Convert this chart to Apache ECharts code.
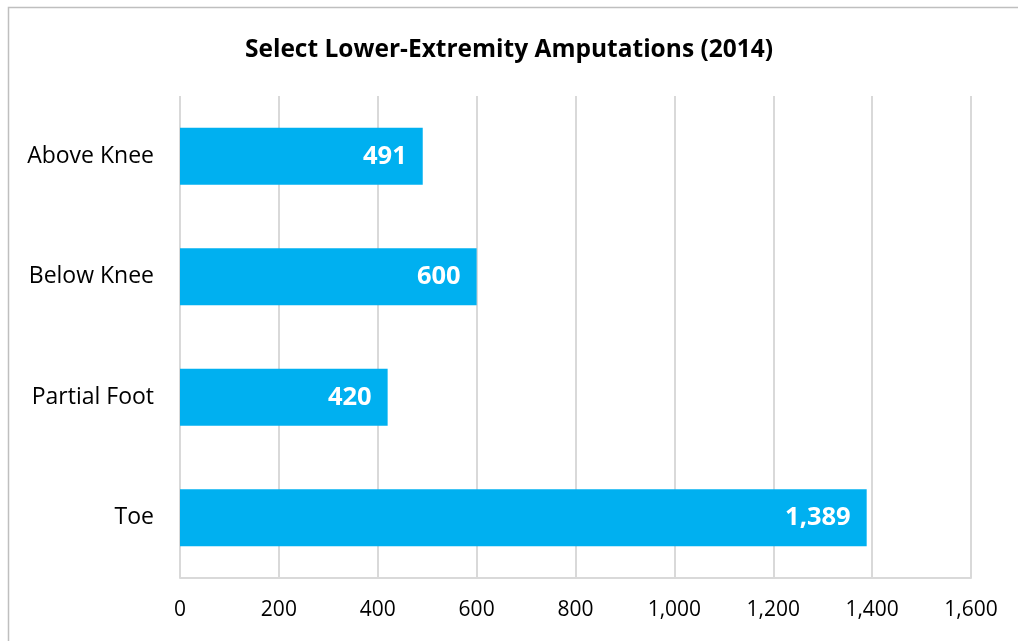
<!DOCTYPE html>
<html><head><meta charset="utf-8">
<script src="https://cdn.jsdelivr.net/npm/echarts@6/dist/echarts.min.js"></script>
<style>html,body{margin:0;padding:0;background:#fff;}#c{width:1018px;height:641px;}</style>
</head><body><div id="c"></div>
<script>
const title = 'Select Lower-Extremity Amputations (2014)';
const categories = ['Above Knee', 'Below Knee', 'Partial Foot', 'Toe'];
const values = [491, 600, 420, 1389];
const axisMax = 1600;
const axisInterval = 200;

const chart = echarts.init(document.getElementById('c'));
const font = '"Open Sans", Lato, sans-serif';
chart.setOption({
  animation: false,
  backgroundColor: '#fff',
  graphic: [{type: 'rect', shape: {x: 8.5, y: 7.5, width: 1100, height: 700}, style: {fill: 'none', stroke: '#bfbfbf', lineWidth: 1.5}, silent: true}],
  title: {text: title, left: 'center', top: 33, textStyle: {fontFamily: font, fontSize: 24.5, fontWeight: 'bold', color: '#000'}},
  grid: {left: 180, right: 47, top: 96, bottom: 63, containLabel: false},
  xAxis: {type: 'value', min: 0, max: axisMax, interval: axisInterval,
    axisLine: {show: true, lineStyle: {color: '#d9d9d9', width: 2}}, axisTick: {show: false},
    splitLine: {show: true, lineStyle: {color: '#d9d9d9', width: 2}},
    axisLabel: {fontFamily: font, fontSize: 21, color: '#000', margin: 22,
      formatter: v => v.toLocaleString('en-US')}},
  yAxis: {type: 'category', data: categories, inverse: true,
    axisLine: {show: false}, axisTick: {show: false},
    axisLabel: {fontFamily: font, fontSize: 23, color: '#000', margin: 26}},
  series: [{type: 'bar', data: values, barWidth: '47.5%', itemStyle: {color: '#00b0f0'},
    label: {show: true, position: 'insideRight', distance: 16, color: '#fff', fontFamily: font, fontSize: 25.5, fontWeight: 'bold',
      formatter: p => p.value.toLocaleString('en-US')}}]
});
</script></body></html>
